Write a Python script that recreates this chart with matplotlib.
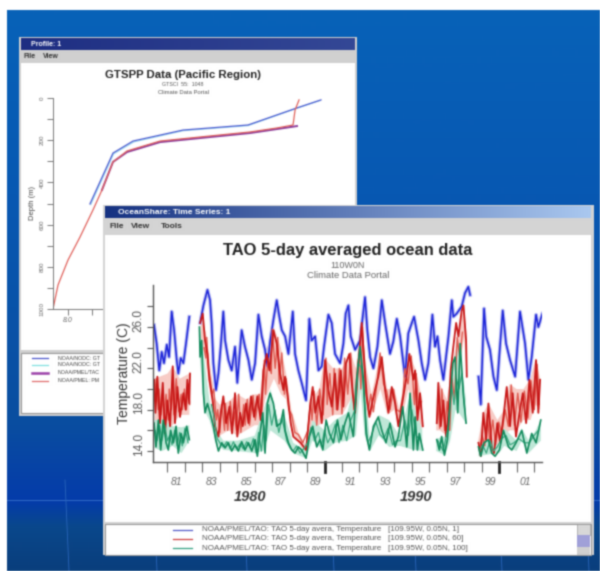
import numpy as np
import matplotlib
matplotlib.use("Agg")
import matplotlib.pyplot as plt
from matplotlib.patches import Rectangle
from matplotlib.transforms import ScaledTranslation

plt.rcParams['font.family'] = ['Liberation Sans', 'DejaVu Sans']

# ---------- data: GTSPP profile (temperature C, depth m) ----------
prof_blue_t = [9.83, 11.75, 13.42, 17.58, 23.0, 27.08, 29.08]
prof_blue_d = [502, 261, 204, 152, 128, 47, 9]
prof_cyan_t = [9.9, 11.8, 13.5, 17.6, 23.0, 27.0, 29.0]
prof_cyan_d = [505, 265, 208, 155, 131, 50, 12]
prof_mag_t = [10.83, 11.75, 12.92, 15.67, 19.83, 23.17, 27.08]
prof_mag_d = [436, 303, 256, 209, 185, 166, 133]
prof_red_t = [6.75, 7.17, 8.0, 9.0, 10.08, 10.83, 11.75, 12.92, 15.67, 19.83, 23.17, 25.42, 26.75, 26.92, 27.25]
prof_red_d = [1000, 886, 768, 659, 531, 436, 303, 251, 204, 180, 161, 142, 128, 57, 9]
prof_labels = ["NOAA/NODC: GT", "NOAA/NODC: GT", "NOAA/PMEL/TAC", "NOAA/PMEL: PM"]

# ---------- data: TAO temperatures (years since 1900, deg C); nan = gap ----------
nan = float('nan')
blue_yr = [80.23, 80.38, 80.53, 80.67, 80.8, 80.96, 81.09, 81.24, 81.38, 81.53, 81.62, 81.76, 81.91, 82.06, 82.25, nan,
           82.87, 83.06, 83.29, 83.44, 83.53, 83.63, 83.78, 83.92, 84.05, 84.2, 84.3, 84.49, 84.68, 84.87, 85.0, 85.12, 85.25, 85.44, 85.64, 85.83, 86.02, 86.21, 86.4, 86.59, 86.72, 86.88, 87.07, 87.26, 87.41, 87.55,
           87.74, 87.93, 88.18, 88.31, 88.5, 88.69, 88.94, 89.13, 89.26, 89.46, 89.65, 89.84, 89.97, 90.22, 90.41, 90.6, 90.89, 91.08, 91.21, 91.37, 91.5, 91.75, 92.03, 92.32, 92.45, 92.61, 92.8, 93.03, 93.28, 93.47, 93.75, 93.94, 94.14, 94.33, 94.61, 94.8, 95.0,
           95.13, 95.38, 95.57, 95.76, 95.95, 96.18, 96.33, 96.47, 96.62, 96.81, 96.94, 97.1, 97.29, 97.38, 97.57, 97.86, 98.05, 98.24, 98.34, nan,
           98.82, 98.95, 99.14, 99.26, 99.48, 99.68, 99.87, 100.02, 100.21, 100.4, 100.63, 100.92, 101.2, 101.49, 101.68, 101.87, 102.12, 102.25, 102.48]
blue_t = [26.2, 24.4, 21.8, 23.6, 22.5, 24.3, 23.1, 27.5, 25.7, 22.8, 21.5, 23.0, 22.5, 24.4, 27.0, nan,
          26.4, 28.1, 29.6, 28.6, 26.4, 22.5, 19.9, 21.5, 24.1, 27.5, 24.7, 22.8, 21.8, 24.1, 20.6, 23.1, 25.7, 24.1, 22.8, 20.9, 22.5, 27.2, 25.1, 23.8, 22.2, 24.6, 26.7, 28.6, 27.0, 25.7,
          25.1, 23.4, 27.5, 23.4, 21.8, 20.6, 18.9, 26.8, 24.7, 25.1, 21.8, 22.2, 24.1, 27.2, 26.4, 23.4, 22.5, 24.4, 27.3, 28.1, 25.1, 23.8, 24.7, 28.9, 25.7, 23.1, 22.0, 24.1, 28.6, 26.4, 23.4, 24.6, 26.8, 25.1, 21.2, 25.4, 26.4,
          27.0, 24.7, 22.5, 20.9, 22.5, 27.2, 24.1, 25.1, 22.8, 20.9, 22.8, 25.1, 28.6, 27.0, 27.3, 28.0, 29.3, 29.9, 29.1, nan,
          21.2, 18.5, 27.8, 25.1, 23.8, 21.2, 19.9, 23.4, 27.6, 24.4, 22.8, 21.2, 27.5, 24.4, 20.9, 23.1, 27.2, 26.0, 27.3]

red_yr = [80.23, 80.31, 80.42, 80.57, 80.73, 80.86, 80.99, 81.15, 81.3, 81.43, 81.57, 81.72, 81.91, 82.04, 82.14, 82.25, 82.29, nan,
          82.87, 83.02, 83.15, 83.29, 83.4, 83.59, 83.72, 83.92, 84.05, 84.2, 84.36, 84.55, 84.7, 84.87, 85.0, 85.16, 85.31, 85.5, 85.64, 85.79, 85.96, 86.15, 86.34, 86.49, 86.69, 86.84, 87.07, 87.26, 87.45, 87.64,
          87.74, 87.87, 88.06, 88.21, 88.41, 88.63, 88.94, 89.17, 89.32, 89.47, 89.65, 89.84, 90.03, 90.22, 90.41, 90.6, 90.74, 90.93, 91.08, 91.23, 91.42, 91.61, 91.75, 91.94, 92.13, 92.26, 92.42, 92.57, 92.72, 92.89, 93.08, 93.28, 93.47, 93.66, 93.85, 94.04, 94.23, 94.42, 94.67, 94.86, 95.09,
          95.19, 95.32, 95.47, 95.63, nan,
          96.43, 96.52, 96.66, 96.81, 96.96, 97.1, 97.23, 97.38, 97.54, 97.67, 97.86, 97.96, 98.11, 98.15, nan,
          98.82, 98.95, 99.1, 99.26, 99.39, 99.58, 99.71, 99.9, 100.06, 100.25, 100.44, 100.63, 100.78, 100.97, 101.17, 101.36, 101.55, 101.74, 101.93, 102.12, 102.25, 102.35]
red_t = [20.9, 17.7, 21.2, 16.7, 20.6, 15.7, 18.9, 16.4, 22.2, 16.7, 20.2, 17.3, 19.6, 18.0, 20.9, 18.6, 21.5, nan,
         26.4, 27.3, 24.7, 23.4, 20.9, 18.9, 16.4, 15.4, 17.7, 19.3, 16.7, 18.3, 15.7, 19.6, 15.4, 17.7, 16.4, 18.6, 16.7, 19.3, 17.3, 19.3, 17.0, 21.8, 23.4, 21.8, 25.7, 24.4, 21.5, 19.9,
         21.2, 19.6, 16.7, 15.4, 15.1, 14.8, 14.1, 18.3, 20.2, 17.7, 19.3, 16.7, 22.8, 19.9, 18.3, 21.5, 18.0, 21.8, 18.3, 22.5, 23.4, 19.6, 17.7, 22.5, 26.4, 23.1, 19.3, 17.3, 18.6, 19.9, 21.2, 23.1, 19.9, 17.7, 20.2, 18.6, 16.4, 18.3, 20.9, 23.4, 20.9,
         21.8, 17.0, 19.6, 16.4, nan,
         16.7, 20.6, 16.4, 18.9, 15.4, 17.7, 21.8, 24.1, 26.4, 25.1, 27.6, 28.1, 24.7, 21.2, nan,
         14.8, 13.5, 17.7, 15.1, 18.6, 14.4, 13.8, 16.7, 14.8, 17.3, 20.2, 16.4, 19.6, 15.4, 17.7, 19.6, 16.7, 20.9, 17.7, 22.8, 17.7, 20.9]

green_yr = [80.23, 80.34, 80.48, 80.61, 80.76, 80.92, 81.05, 81.18, 81.34, 81.49, 81.62, 81.78, 81.91, 82.1, 82.25, nan,
            82.83, 82.87, 82.96, 83.06, 83.15, 83.29, 83.44, 83.63, 83.76, 83.92, 84.11, 84.3, 84.49, 84.68, 84.87, 85.06, 85.25, 85.44, 85.64, 85.83, 86.02, 86.15, 86.3, 86.46, 86.59, 86.72, 86.88, 87.07, 87.26, 87.49, 87.64,
            87.74, 87.93, 88.12, 88.31, 88.5, 88.69, 88.94, 89.13, 89.32, 89.55, 89.74, 89.9, 90.09, 90.28, 90.51, 90.74, 90.93, 91.17, 91.37, 91.65, 91.84, 92.03, 92.23, 92.38, 92.57, 92.8, 93.08, 93.28, 93.52, 93.75, 94.04, 94.23, 94.48, 94.71, 94.9, 95.09,
            95.19, 95.32, 95.43, 95.63, nan,
            96.43, 96.58, 96.71, 96.87, 97.04, 97.19, 97.35, 97.48, 97.63, 97.77, 97.96, 98.11, nan,
            98.82, 98.95, 99.14, 99.39, 99.58, 99.77, 100.02, 100.25, 100.54, 100.73, 100.97, 101.3, 101.59, 101.87, 102.12, 102.39]
green_t = [16.7, 14.4, 17.0, 14.1, 17.0, 14.8, 14.1, 16.0, 14.8, 16.4, 13.8, 15.7, 14.8, 16.4, 15.1, nan,
           26.0, 23.1, 24.7, 19.6, 17.7, 18.6, 17.7, 16.4, 15.1, 14.0, 14.8, 14.3, 14.8, 14.0, 14.6, 14.0, 14.9, 14.1, 14.8, 14.0, 15.1, 13.5, 15.7, 17.7, 13.8, 18.6, 19.6, 18.6, 16.4, 16.7, 18.0,
           16.0, 14.8, 14.1, 13.8, 14.4, 14.1, 13.3, 15.4, 16.4, 14.4, 15.1, 14.1, 17.0, 15.7, 14.8, 17.0, 15.1, 16.7, 17.7, 15.4, 20.9, 24.1, 20.9, 15.7, 14.1, 16.4, 17.3, 16.0, 14.8, 16.7, 14.4, 15.4, 18.3, 14.4, 19.6, 14.1,
           17.3, 14.1, 15.7, 14.1, nan,
           15.1, 14.1, 15.4, 13.6, 15.1, 18.6, 22.5, 23.1, 17.7, 24.4, 19.3, 16.7, nan,
           14.4, 13.5, 14.8, 15.1, 13.8, 13.5, 14.1, 16.0, 14.4, 14.1, 14.8, 16.0, 13.8, 15.7, 14.8, 17.0]

# finer spikes inside the red and green bands
red2_yr = [80.27, 80.36, 80.47, 80.52, 80.63, 80.7, 80.8, 80.92, 81.05, 81.1, 81.22, 81.27, 81.37, 81.5, 81.65, 81.78, 81.85, 81.97, 82.08, 82.2, 82.27, nan,
           83.1, 83.2, 83.25, 83.35, 83.45, 83.55, 83.65, 83.8, 83.88, 84.0, 84.12, 84.27, 84.32, 84.45, 84.6, 84.75, 84.82, 84.95, 85.08, 85.2, 85.37, 85.45, 85.57, 85.7, 85.9, 86.03, 86.25, 86.4, 86.55, 86.62, 86.75, 86.95, 87.0, 87.17, 87.32, 87.4, 87.55, 87.7,
           87.8, 87.95, 88.12, 88.3, 88.5, 88.75, 89.05, 89.2, 89.28, 89.4, 89.55, 89.72, 89.92, 90.08, 90.15, 90.3, 90.47, 90.55, 90.68, 90.85, 91.0, 91.15, 91.33, 91.5, 91.68, 91.88, 92.0, 92.08, 92.18, 92.33, 92.5, 92.65, 92.8, 93.0, 93.18, 93.38, 93.56, 93.75, 93.95, 94.13, 94.32, 94.5, 94.6, 94.78, 94.97, 95.15, 95.25, 95.4, 95.55, nan,
           96.48, 96.6, 96.72, 96.88, 97.03, 97.17, 97.3, 97.45, 97.6, 97.75, 97.9, nan,
           98.88, 99.03, 99.18, 99.32, 99.47, 99.64, 99.8, 99.98, 100.15, 100.35, 100.53, 100.7, 100.88, 101.07, 101.25, 101.45, 101.65, 101.83, 102.02, 102.18, 102.3]
red2_t = [19.5, 21.0, 18.0, 20.0, 17.5, 19.5, 17.0, 19.5, 17.0, 20.0, 18.0, 20.5, 17.5, 21.0, 17.8, 19.5, 18.0, 20.0, 18.0, 20.5, 18.5, nan,
          24.0, 23.0, 25.0, 22.0, 21.0, 19.5, 20.0, 17.0, 18.0, 15.8, 18.5, 16.0, 18.6, 16.0, 18.8, 16.5, 17.8, 16.0, 19.5, 15.8, 18.5, 16.5, 19.0, 16.5, 19.4, 17.0, 19.5, 17.5, 22.8, 19.5, 23.0, 21.5, 25.8, 22.0, 25.0, 20.5, 23.5, 19.5,
          21.0, 18.0, 17.5, 15.8, 15.6, 14.8, 16.0, 19.0, 17.0, 19.8, 16.5, 20.0, 17.5, 23.0, 18.5, 21.5, 17.5, 22.0, 18.0, 22.0, 17.6, 23.0, 19.5, 23.5, 18.0, 22.0, 23.5, 20.0, 26.0, 20.0, 18.0, 19.5, 17.8, 20.5, 23.5, 20.5, 19.8, 18.0, 20.0, 18.0, 17.8, 19.5, 22.0, 20.5, 23.2, 18.5, 21.5, 18.0, 18.8, nan,
          19.0, 16.2, 20.0, 16.0, 18.8, 16.0, 21.0, 19.0, 25.0, 23.0, 25.5, nan,
          14.2, 15.5, 14.5, 17.6, 14.8, 17.0, 14.6, 16.8, 15.6, 18.0, 16.4, 20.4, 16.5, 19.6, 16.8, 19.8, 17.2, 20.8, 18.0, 22.4, 18.5]
green2_yr = [80.29, 80.41, 80.55, 80.68, 80.84, 81.0, 81.12, 81.26, 81.41, 81.55, 81.7, 81.85, 82.0, 82.18, nan,
             83.52, 83.7, 83.85, 84.0, 84.2, 84.4, 84.6, 84.78, 84.96, 85.16, 85.35, 85.54, 85.74, 85.92, 86.08, 86.22, 86.38, 86.52, 86.65, 86.8, 86.97, 87.15, 87.38, 87.56,
             87.84, 88.03, 88.2, 88.4, 88.6, 88.8, 89.03, 89.22, 89.43, 89.65, 89.82, 90.0, 90.18, 90.4, 90.62, 90.83, 91.05, 91.27, 91.5, 91.75, 91.93, 92.13, 92.3, 92.47, 92.68, 92.94, 93.18, 93.4, 93.64, 93.9, 94.13, 94.35, 94.6, 94.8, 95.0, 95.25, 95.5, nan,
             96.5, 96.8, 97.1, 97.27, 97.42, 97.56, 97.7, 97.87, 98.03, nan,
             98.88, 99.05, 99.27, 99.48, 99.68, 99.9, 100.14, 100.4, 100.63, 100.85, 101.13, 101.45, 101.73, 102.0, 102.25]
green2_t = [16.0, 15.0, 16.5, 15.0, 16.5, 15.0, 15.5, 14.6, 16.0, 14.5, 15.8, 14.5, 16.2, 14.8, nan,
            18.5, 17.0, 15.2, 14.8, 14.4, 14.9, 14.2, 14.9, 14.2, 14.7, 14.2, 14.9, 14.3, 15.2, 13.8, 15.8, 14.0, 16.5, 15.0, 18.5, 16.5, 18.0, 15.8, 17.2,
            15.0, 14.3, 14.0, 14.5, 13.8, 14.2, 14.8, 16.3, 15.0, 15.8, 14.5, 16.0, 14.8, 15.5, 16.6, 14.8, 16.5, 15.0, 17.0, 18.0, 22.5, 22.0, 18.5, 14.8, 15.5, 16.8, 15.6, 15.2, 16.2, 14.6, 15.0, 15.0, 17.0, 15.5, 18.0, 15.5, 15.0, nan,
            15.0, 14.0, 16.5, 20.5, 18.5, 21.0, 20.0, 21.5, 18.0, nan,
            14.0, 14.6, 13.8, 15.0, 14.0, 14.4, 15.2, 15.5, 14.6, 14.8, 15.2, 14.8, 14.8, 15.5, 16.0]

# spread of each series about its line (year, high, low)
red_band_yr = [80.25, 81.0, 81.3, 81.7, 82.25, nan, 82.9, 83.2, 83.5, 83.75, 84.0, 84.5, 85.0, 85.5, 86.0, 86.3, 86.6, 87.1, 87.5, 87.8, 88.1, 88.5, 88.95, 89.2, 89.7, 90.0, 90.5, 91.0, 91.5, 91.8, 92.1, 92.4, 92.7, 93.2, 93.6, 94.0, 94.3, 94.8, 95.2, 95.6, nan,
               96.4, 96.6, 97.0, 97.3, 97.7, 98.0, 98.15, nan, 98.8, 99.1, 99.4, 99.9, 100.3, 100.6, 101.0, 101.4, 101.8, 102.1, 102.35]
red_band_hi = [21.0, 21.5, 22.2, 21.0, 21.5, nan, 27.0, 25.5, 21.5, 19.0, 18.5, 18.8, 19.5, 19.0, 19.5, 19.5, 23.5, 26.0, 24.0, 21.5, 18.0, 15.8, 14.5, 19.0, 20.0, 23.0, 22.0, 22.0, 23.5, 22.0, 26.5, 22.0, 19.5, 23.5, 20.0, 20.0, 18.0, 23.5, 22.0, 19.0, nan,
               17.0, 20.5, 19.0, 22.0, 26.0, 28.0, 25.0, nan, 15.0, 17.7, 18.6, 17.0, 18.0, 20.5, 20.0, 20.0, 21.0, 23.0, 21.0]
red_band_lo = [16.5, 16.0, 16.5, 17.5, 17.5, nan, 25.0, 22.5, 19.0, 16.0, 15.5, 16.0, 15.5, 16.0, 16.5, 16.5, 19.0, 21.0, 19.5, 19.0, 16.0, 14.8, 13.6, 16.0, 16.5, 17.0, 17.5, 17.5, 19.0, 17.5, 20.0, 17.5, 17.5, 20.0, 17.5, 18.0, 16.0, 20.0, 18.0, 16.0, nan,
               16.0, 16.0, 15.5, 17.0, 22.0, 25.0, 21.0, nan, 14.0, 14.0, 14.5, 14.5, 15.5, 16.0, 16.0, 17.0, 17.0, 18.5, 18.0]
green_band_yr = [80.25, 80.7, 81.3, 81.8, 82.25, nan, 82.85, 83.1, 83.4, 83.8, 84.2, 85.0, 86.0, 86.5, 86.9, 87.3, 87.7, 88.2, 88.94, 89.3, 90.0, 90.6, 91.3, 91.8, 92.05, 92.3, 92.6, 93.1, 93.7, 94.3, 94.9, 95.6, nan,
                 96.4, 96.9, 97.2, 97.5, 97.7, 98.1, nan, 98.82, 99.5, 100.0, 100.3, 101.0, 101.3, 101.7, 102.1, 102.39]
green_band_hi = [17.0, 17.0, 16.4, 16.3, 16.5, nan, 26.0, 23.0, 19.0, 16.0, 15.0, 15.0, 15.5, 18.0, 20.0, 17.0, 17.5, 14.8, 14.0, 17.0, 16.0, 17.0, 17.7, 21.0, 24.5, 21.0, 15.0, 17.5, 17.0, 15.5, 19.5, 16.0, nan,
                 15.2, 15.4, 19.0, 23.5, 24.5, 19.0, nan, 14.6, 15.2, 14.5, 16.2, 15.0, 16.2, 15.0, 16.0, 17.0]
green_band_lo = [14.3, 14.0, 14.5, 13.8, 15.0, nan, 23.0, 18.0, 17.0, 14.8, 14.1, 14.0, 13.8, 14.0, 16.0, 15.5, 15.0, 13.8, 13.3, 15.0, 14.0, 14.8, 15.0, 15.5, 20.0, 15.5, 14.0, 15.5, 14.4, 14.5, 14.2, 14.0, nan,
                 14.0, 13.6, 15.0, 18.0, 17.7, 16.7, nan, 13.5, 13.7, 13.8, 14.5, 14.0, 15.0, 13.8, 14.5, 15.0]

ts_legend = ["NOAA/PMEL/TAO: TAO 5-day avera, Temperature   [109.95W, 0.05N, 1]",
             "NOAA/PMEL/TAO: TAO 5-day avera, Temperature   [109.95W, 0.05N, 60]",
             "NOAA/PMEL/TAO: TAO 5-day avera, Temperature   [109.95W, 0.05N, 100]"]
year_labels = ["81", "83", "85", "87", "89", "91", "93", "95", "97", "99", "01"]
year_label_pos = [81.5, 83.5, 85.5, 87.5, 89.5, 91.5, 93.5, 95.5, 97.5, 99.5, 101.5]

W, H = 600, 571
fig = plt.figure(figsize=(W / 100, H / 100), dpi=100, facecolor='white')


def blur(img, dpi, sigma=0.7):
    r = 3
    k = np.exp(-0.5 * (np.arange(-r, r + 1) / sigma) ** 2)
    k /= k.sum()
    pad = np.pad(img, ((r, r), (r, r), (0, 0)), mode='constant')
    alpha = pad[..., 3:4]
    pre = np.concatenate([pad[..., :3] * alpha, alpha], axis=2)
    pre = np.apply_along_axis(lambda m: np.convolve(m, k, mode='same'), 0, pre)
    pre = np.apply_along_axis(lambda m: np.convolve(m, k, mode='same'), 1, pre)
    a = np.clip(pre[..., 3:4], 1e-4, 1)
    out = np.concatenate([np.clip(pre[..., :3] / a, 0, 1), pre[..., 3:4]], axis=2)
    return out, -r, -r


def px_axes(z):
    a = fig.add_axes([0, 0, 1, 1], zorder=z)
    a.set_axis_off()
    a.patch.set_alpha(0)
    return a


def set_px(a):
    a.set_xlim(0, W)
    a.set_ylim(H, 0)
    a.set_aspect('auto')


def chart_axes(x0, y0, x1, y1, z):
    a = fig.add_axes([x0 / W, 1 - y1 / H, (x1 - x0) / W, (y1 - y0) / H], zorder=z)
    a.patch.set_alpha(0)
    return a


def rect(a, x0, y0, x1, y1, c, **kw):
    a.add_patch(Rectangle((x0, y0), x1 - x0, y1 - y0, facecolor=c, edgecolor=kw.pop('ec', 'none'), **kw))


def buttons(a, xs, y):
    for x in xs:
        rect(a, x, y, x + 8, y + 8, '#c8c8c8', ec='#666666', lw=0.5)


# ---------- background ----------
bg = px_axes(0)
stops_y = np.array([0, 190, 420, 480, 500, 525, 571])
stops_r = np.array([8, 8, 10, 6, 4, 10, 10])
stops_g = np.array([98, 88, 78, 64, 60, 72, 62])
stops_b = np.array([184, 178, 160, 168, 170, 140, 124])
ys = np.arange(H)
grad = np.stack([np.interp(ys, stops_y, s) for s in (stops_r, stops_g, stops_b)], axis=1)[:, None, :] / 255
bg.imshow(grad, extent=(7, W, 571, 10), aspect='auto', zorder=0)
bg.plot([7, W], [500, 500], color='#3a74cc', lw=0.6, zorder=1)
for x in (65, 153, 243, 330, 412, 498, 585):
    bg.plot([x, x + 4], [480, 571], color='#2a66bc', lw=0.6, zorder=1)

# profile window
rect(bg, 19, 37, 357, 416, '#d0d0d0', zorder=2)
tb = np.linspace(0, 1, 100)[None, :, None]
bar1 = (1 - tb) * np.array([30, 46, 130]) / 255 + tb * np.array([52, 72, 150]) / 255
bg.imshow(bar1, extent=(21, 355, 50, 38), aspect='auto', zorder=3)
buttons(bg, (322, 332, 343), 40)
bg.text(31, 44, "Profile: 1", color='white', fontsize=5, va='center', weight='bold', zorder=4)
bg.text(23, 57, "File", fontsize=5, va='center', weight='bold', color='#333333', zorder=4)
bg.text(43, 57, "View", fontsize=5, va='center', weight='bold', color='#333333', zorder=4)
rect(bg, 21, 63, 355, 350, 'white', zorder=3)
rect(bg, 21, 353, 355, 413, 'white', ec='#999999', lw=0.8, zorder=3)
bg.text(183, 75, "GTSPP Data (Pacific Region)", fontsize=8.2, weight='bold', ha='center', va='center', color='#222222', zorder=4)
bg.text(183, 85, "GTSCI  55:  1048", fontsize=3.8, ha='center', va='center', color='#555555', zorder=4)
bg.text(183, 93, "Climate Data Portal", fontsize=4.2, ha='center', va='center', color='#555555', zorder=4)
leg_y = [358, 365, 373, 381]
leg_c = ['#4a55cc', '#7fe0e0', '#9a3fa8', '#e06a6a']
leg_w = [0.9, 0.9, 1.8, 0.9]
for y, c, lw, s in zip(leg_y, leg_c, leg_w, prof_labels):
    bg.plot([32, 48], [y, y], color=c, lw=lw, zorder=4)
    bg.text(58, y, s, fontsize=3.8, va='center', color='#444444', zorder=4)
set_px(bg)
bg.set_agg_filter(blur)

# profile chart
ap = chart_axes(53, 98, 330, 309, 1)
ap.plot(prof_cyan_t, prof_cyan_d, color='#9fdcf0', lw=0.8)
ap.plot(prof_blue_t, prof_blue_d, color='#4a5ad0', lw=0.9)
ap.plot(prof_mag_t, prof_mag_d, color='#8a3a9a', lw=1.4)
ap.plot(prof_red_t, prof_red_d, color='#e0605a', lw=0.9)
ap.set_xlim(6.75, 29.83)
ap.set_ylim(1000, 0)
ap.spines[['top', 'right']].set_visible(False)
for s in ap.spines.values():
    s.set_color('#777777')
    s.set_linewidth(0.7)
ap.set_yticks(np.arange(0, 1001, 100))
ap.set_yticklabels([str(v) if v % 200 == 0 else '' for v in range(0, 1001, 100)], rotation=90, va='center', fontsize=4.5, color='#666666')
ap.set_xticks([8, 10])
ap.set_xticklabels(["8.0", ""], fontsize=5, style='italic', color='#666666')
ap.tick_params(length=4, width=0.7, color='#777777', pad=2)
ap.set_ylabel("Depth (m)", fontsize=5.5, color='#444444', labelpad=3)
ap.set_agg_filter(blur)

# ---------- time series window ----------
win = px_axes(2)
rect(win, 103, 205, 594, 555, '#d4d4d4', zorder=1)
tb2 = np.linspace(0, 1, 200)[None, :, None]
bar2 = (1 - tb2) * np.array([22, 50, 130]) / 255 + tb2 * np.array([170, 200, 240]) / 255
win.imshow(bar2, extent=(105, 591, 218, 206), aspect='auto', zorder=2)
buttons(win, (556, 566, 579), 208)
win.text(118, 212, "OceanShare: Time Series: 1", color='white', fontsize=6, va='center', zorder=3, weight='bold')
for x, s in ((109, "File"), (131, "View"), (161, "Tools")):
    win.text(x, 227, s, fontsize=6, va='center', weight='bold', color='#333333', zorder=3)
rect(win, 105, 235, 591, 522, 'white', zorder=2)
rect(win, 105, 524, 591, 555, 'white', ec='#999999', lw=0.8, zorder=2)
win.text(348, 250, "TAO 5-day averaged ocean data", fontsize=11.9, weight='bold', ha='center', va='center', color='#222222', zorder=3)
win.text(348, 265, "110W0N", fontsize=6.5, ha='center', va='center', color='#666666', zorder=3)
win.text(348, 276, "Climate Data Portal", fontsize=6.8, ha='center', va='center', color='#666666', zorder=3)
for y, c, s in zip((529.5, 539, 548), ('#5058c8', '#d04040', '#30a080'), ts_legend):
    win.plot([173, 192], [y, y], color=c, lw=0.9, zorder=3)
    win.text(202, y, s, fontsize=5.8, va='center', color='#555555', zorder=3)
rect(win, 577, 524, 590, 535, '#d8d8d8', ec='#888888', lw=0.4, zorder=3)
rect(win, 577, 535, 590, 547, '#a0a0d8', zorder=3)
rect(win, 577, 547, 590, 555, '#d0d0d0', zorder=3)
set_px(win)
win.set_agg_filter(blur)

# time series chart
at = chart_axes(153, 285, 542, 462, 3)
at.plot(blue_yr, blue_t, color='#b4b8f4', lw=2.6, solid_joinstyle='round')
at.plot(blue_yr, blue_t, color='#1a22d8', lw=1.1, solid_joinstyle='round')
at.fill_between(red_band_yr, red_band_lo, red_band_hi, color='#f8ccc6', lw=0)
at.plot(red2_yr, red2_t, color='#e05a50', lw=1.0, solid_joinstyle='round')
at.plot(red_yr, red_t, color='#c81818', lw=1.3, solid_joinstyle='round')
at.fill_between(green_band_yr, green_band_lo, green_band_hi, color='#bfe8d8', lw=0)
at.plot(green2_yr, green2_t, color='#3aa880', lw=0.9, solid_joinstyle='round')
at.plot(green_yr, green_t, color='#128a5c', lw=1.2, solid_joinstyle='round')
at.set_xlim(80.17, 102.46)
at.set_ylim(12.94, 30.07)
at.spines[['top', 'right']].set_visible(False)
for s in at.spines.values():
    s.set_color('#555555')
    s.set_linewidth(1)
at.set_yticks([14, 18, 22, 26])
at.set_yticklabels(["14.0", "18.0", "22.0", "26.0"], rotation=90, va='center', fontsize=8.5, color='#555555')
at.set_yticks([16, 20, 24, 28], minor=True)
at.tick_params(axis='y', which='both', length=4, width=0.8, color='#555555', pad=2)
shift = ScaledTranslation(0, 5 / 72, fig.dpi_scale_trans)
for lab in at.get_yticklabels():
    lab.set_transform(lab.get_transform() + shift)
at.set_xticks(year_label_pos)
at.set_xticklabels(year_labels, style='italic', fontsize=7.5, color='#666666')
at.tick_params(axis='x', which='major', length=0, pad=11)
at.set_xticks(np.arange(81, 103), minor=True)
at.tick_params(axis='x', which='minor', length=7, width=0.8, color='#666666')
for v in (90, 100):
    at.plot([v, v], [0, -0.055], transform=at.get_xaxis_transform(), color='#222222', lw=2, clip_on=False)
at.set_ylabel("Temperature (C)", fontsize=10, color='#333333', labelpad=1)
at.text(85.73, -0.2, "1980", transform=at.get_xaxis_transform(), fontsize=10.5, style='italic', weight='bold', ha='center', va='center', color='#333333')
at.text(95.24, -0.2, "1990", transform=at.get_xaxis_transform(), fontsize=10.5, style='italic', weight='bold', ha='center', va='center', color='#333333')
at.set_agg_filter(blur)

fig.savefig("out.png", dpi=100, facecolor='white')
